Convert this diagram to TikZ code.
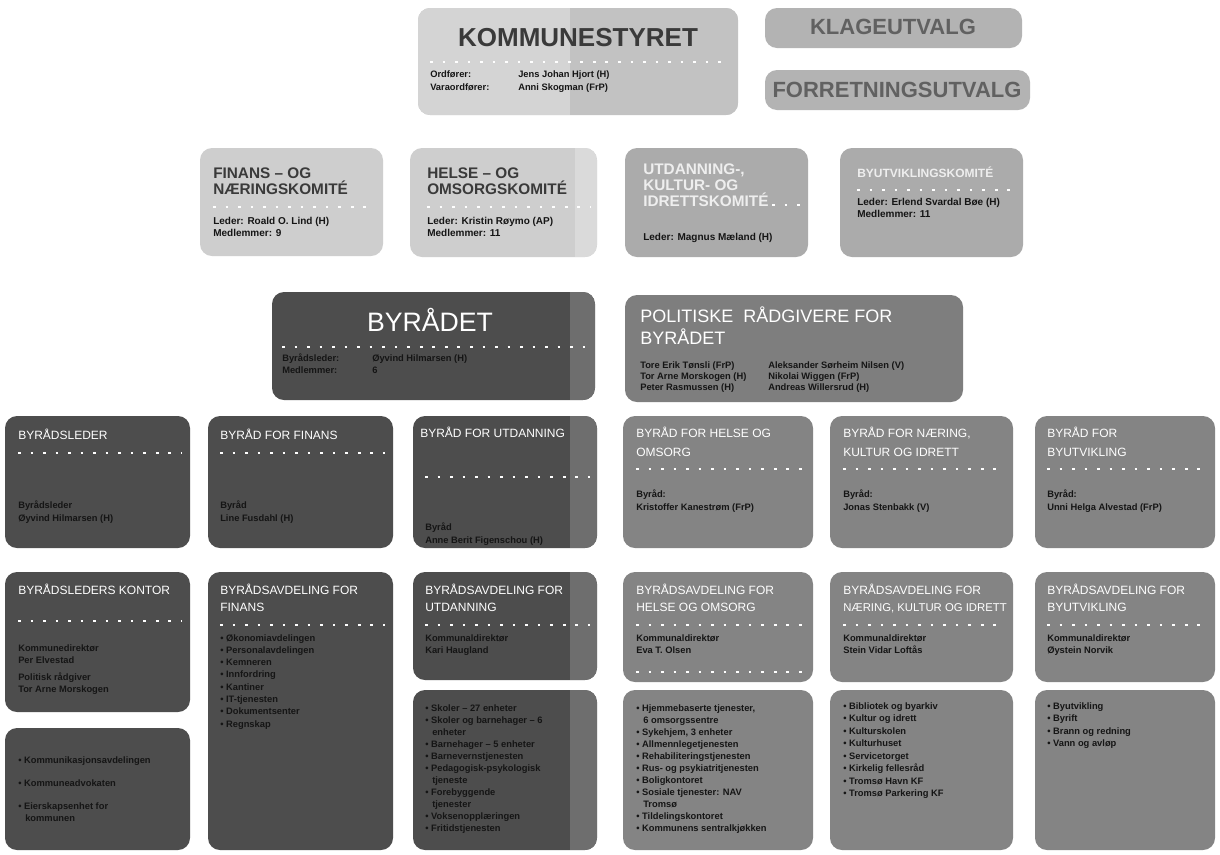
\documentclass[tikz,border=0pt]{standalone}
\usepackage{fontspec}
\setmainfont{Liberation Sans}
\usetikzlibrary{fit}
\definecolor{klight}{HTML}{D4D4D4}
\definecolor{kright}{HTML}{C2C2C2}
\definecolor{clight}{HTML}{CECECE}
\definecolor{cstrip}{HTML}{DADADA}
\definecolor{cmid}{HTML}{ABABAB}
\definecolor{klage}{HTML}{B3B3B3}
\definecolor{dark}{HTML}{4D4D4D}
\definecolor{darkstrip}{HTML}{6E6E6E}
\definecolor{mid}{HTML}{848484}
\definecolor{polit}{HTML}{7E7E7E}
\definecolor{txtdark}{HTML}{151515}
\definecolor{ttldark}{HTML}{3A3A3A}
\definecolor{ttllight}{HTML}{EEEEEE}
\newcounter{tn}
\newcommand{\bx}[6]{\node[fit={(#2,#3)(#4,#5)}, inner sep=0pt, outer sep=0pt, boxst, #6] (#1) {};}
\newcommand{\strp}[6]{\begin{scope}\clip[rounded corners=9pt] (#1,#2) rectangle (#3,#4);\fill[#6] (#5,#2) rectangle (#3,#4);\end{scope}}
\newcommand{\tx}[4]{\stepcounter{tn}\node[anchor=base west, inner sep=0pt, #4] (t\arabic{tn}) at (#1,#2) {#3};}
\newcommand{\tc}[4]{\stepcounter{tn}\node[anchor=base, inner sep=0pt, #4] (t\arabic{tn}) at (#1,#2) {#3};}
\newcommand{\dl}[3]{\draw[dotline] (#1,#3) -- (#2,#3);}
\begin{document}
\begin{tikzpicture}[x=0.75pt,y=-0.75pt,
  boxst/.style={rectangle, rounded corners=9pt, draw=none},
  dotline/.style={white, line width=2pt, dash pattern=on 2pt off 7.4pt},
  kt/.style={font=\fontsize{19.5}{20}\selectfont\bfseries, text=ttldark},
  ut/.style={font=\fontsize{16.5}{18}\selectfont\bfseries, text=ttldark!80},
  ct/.style={font=\fontsize{11.5}{12}\selectfont\bfseries, text=ttldark},
  clt/.style={font=\fontsize{11.5}{12}\selectfont\bfseries, text=ttllight},
  bt/.style={font=\fontsize{7}{8}\selectfont\bfseries, text=txtdark},
  cb/.style={font=\fontsize{7.5}{8.5}\selectfont\bfseries, text=txtdark},
  wt/.style={font=\fontsize{9}{10}\selectfont, text=white},
  bigw/.style={font=\fontsize{20}{22}\selectfont, text=white},
  polw/.style={font=\fontsize{13.5}{15}\selectfont, text=white}]
\useasboundingbox (0,0) rectangle (1220,854);
\fill[white] (0,0) rectangle (1220,854);

% ---------------- Kommunestyret ----------------
\bx{kommunestyret}{418}{8}{738}{115}{fill=kright}
\strp{418}{8}{738}{115}{418}{klight}
\begin{scope}\clip[rounded corners=9pt] (418,8) rectangle (738,115);\fill[kright] (570,8) rectangle (738,115);\end{scope}
\tc{578}{46}{KOMMUNESTYRET}{kt}
\dl{430}{728}{62}
\tx{430}{77}{Ordfører:}{bt}
\tx{518}{77}{Jens Johan Hjort (H)}{bt}
\tx{430}{90}{Varaordfører:}{bt}
\tx{518}{90}{Anni Skogman (FrP)}{bt}

\bx{klageutvalg}{765}{8}{1022}{48}{fill=klage}
\tc{893}{34}{KLAGEUTVALG}{ut}
\bx{forretning}{765}{70}{1030}{110}{fill=klage}
\tc{897}{97}{FORRETNINGSUTVALG}{ut}

% ---------------- Komiteer ----------------
\bx{finanskom}{200}{148}{383}{256}{fill=clight}
\tx{213}{178}{FINANS – OG}{ct}
\tx{213}{194}{NÆRINGSKOMITÉ}{ct}
\dl{213}{375}{207}
\tx{213}{224}{Leder: Roald O. Lind (H)}{cb}
\tx{213}{236}{Medlemmer: 9}{cb}

\bx{helsekom}{410}{148}{597}{257}{fill=clight}
\strp{410}{148}{597}{257}{575}{cstrip}
\tx{427}{178}{HELSE – OG}{ct}
\tx{427}{194}{OMSORGSKOMITÉ}{ct}
\dl{427}{590}{207}
\tx{427}{224}{Leder: Kristin Røymo (AP)}{cb}
\tx{427}{236}{Medlemmer: 11}{cb}

\bx{utdkom}{625}{148}{808}{257}{fill=cmid}
\dl{772}{800}{205}
\tx{643}{174}{UTDANNING-,}{clt}
\tx{643}{190}{KULTUR- OG}{clt}
\tx{643}{206}{IDRETTSKOMITÉ}{clt}
\tx{643}{240}{Leder: Magnus Mæland (H)}{cb}

\bx{byutvkom}{840}{148}{1023}{257}{fill=cmid}
\tx{857}{177}{BYUTVIKLINGSKOMITÉ}{clt, font=\fontsize{9}{10}\selectfont\bfseries}
\dl{857}{1015}{190}
\tx{857}{205}{Leder: Erlend Svardal Bøe (H)}{cb}
\tx{857}{217}{Medlemmer: 11}{cb}

% ---------------- Byrådet ----------------
\bx{byraadet}{272}{292}{595}{400}{fill=dark}
\strp{272}{292}{595}{400}{570}{darkstrip}
\tc{430}{331}{BYRÅDET}{bigw}
\dl{282}{588}{347}
\tx{282}{361}{Byrådsleder:}{bt}
\tx{372}{361}{Øyvind Hilmarsen (H)}{bt}
\tx{282}{373}{Medlemmer:}{bt}
\tx{372}{373}{6}{bt}

\bx{politiske}{625}{295}{963}{402}{fill=polit}
\tx{640}{322}{POLITISKE\ \ RÅDGIVERE FOR}{polw}
\tx{640}{344}{BYRÅDET}{polw}
\tx{640}{368}{Tore Erik Tønsli (FrP)}{bt}
\tx{640}{379}{Tor Arne Morskogen (H)}{bt}
\tx{640}{390}{Peter Rasmussen (H)}{bt}
\tx{768}{368}{Aleksander Sørheim Nilsen (V)}{bt}
\tx{768}{379}{Nikolai Wiggen (FrP)}{bt}
\tx{768}{390}{Andreas Willersrud (H)}{bt}

% ---------------- Byråder ----------------
\bx{byraadsleder}{5}{416}{190}{548}{fill=dark}
\tx{18}{439}{BYRÅDSLEDER}{wt}
\dl{18}{182}{453}
\tx{18}{508}{Byrådsleder}{bt}
\tx{18}{521}{Øyvind Hilmarsen (H)}{bt}

\bx{byraadfinans}{208}{416}{393}{548}{fill=dark}
\tx{220}{439}{BYRÅD FOR FINANS}{wt}
\dl{220}{385}{453}
\tx{220}{508}{Byråd}{bt}
\tx{220}{521}{Line Fusdahl (H)}{bt}

\bx{byraadutd}{413}{416}{597}{548}{fill=dark}
\strp{413}{416}{597}{548}{570}{darkstrip}
\tx{420}{437}{BYRÅD FOR UTDANNING}{wt}
\dl{425}{590}{477}
\tx{425}{530}{Byråd}{bt}
\tx{425}{543}{Anne Berit Figenschou (H)}{bt}

\bx{byraadhelse}{623}{416}{813}{548}{fill=mid}
\tx{636}{437}{BYRÅD FOR HELSE OG}{wt}
\tx{636}{456}{OMSORG}{wt}
\dl{636}{805}{469}
\tx{636}{497}{Byråd:}{bt}
\tx{636}{510}{Kristoffer Kanestrøm (FrP)}{bt}

\bx{byraadnaering}{830}{416}{1013}{548}{fill=mid}
\tx{843}{437}{BYRÅD FOR NÆRING,}{wt}
\tx{843}{456}{KULTUR OG IDRETT}{wt}
\dl{843}{1005}{469}
\tx{843}{497}{Byråd:}{bt}
\tx{843}{510}{Jonas Stenbakk (V)}{bt}

\bx{byraadbyutv}{1035}{416}{1215}{548}{fill=mid}
\tx{1047}{437}{BYRÅD FOR}{wt}
\tx{1047}{456}{BYUTVIKLING}{wt}
\dl{1047}{1208}{469}
\tx{1047}{497}{Byråd:}{bt}
\tx{1047}{510}{Unni Helga Alvestad (FrP)}{bt}

% ---------------- Byrådsavdelinger ----------------
\bx{lederkontor}{5}{572}{190}{712}{fill=dark}
\tx{18}{594}{BYRÅDSLEDERS KONTOR}{wt}
\dl{18}{182}{621}
\tx{18}{651}{Kommunedirektør}{bt}
\tx{18}{663}{Per Elvestad}{bt}
\tx{18}{680}{Politisk rådgiver}{bt}
\tx{18}{692}{Tor Arne Morskogen}{bt}

\bx{lederliste}{5}{728}{190}{850}{fill=dark}
\tx{18}{763}{• Kommunikasjonsavdelingen}{bt}
\tx{18}{786}{• Kommuneadvokaten}{bt}
\tx{18}{809}{• Eierskapsenhet for}{bt}
\tx{25}{821}{kommunen}{bt}

\bx{finansavd}{208}{572}{393}{850}{fill=dark}
\tx{220}{594}{BYRÅDSAVDELING FOR}{wt}
\tx{220}{611}{FINANS}{wt}
\dl{220}{385}{625}
\tx{220}{641}{• Økonomiavdelingen}{bt}
\tx{220}{653.3}{• Personalavdelingen}{bt}
\tx{220}{665.6}{• Kemneren}{bt}
\tx{220}{677.9}{• Innfordring}{bt}
\tx{220}{690.2}{• Kantiner}{bt}
\tx{220}{702.5}{• IT-tjenesten}{bt}
\tx{220}{714.8}{• Dokumentsenter}{bt}
\tx{220}{727.1}{• Regnskap}{bt}

\bx{utdavd}{413}{572}{597}{680}{fill=dark}
\strp{413}{572}{597}{680}{570}{darkstrip}
\tx{425}{594}{BYRÅDSAVDELING FOR}{wt}
\tx{425}{611}{UTDANNING}{wt}
\dl{425}{590}{625}
\tx{425}{641}{Kommunaldirektør}{bt}
\tx{425}{653}{Kari Haugland}{bt}

\bx{utdliste}{413}{690}{597}{850}{fill=dark}
\strp{413}{690}{597}{850}{570}{darkstrip}
\tx{425}{711}{• Skoler – 27 enheter}{bt}
\tx{425}{723}{• Skoler og barnehager – 6}{bt}
\tx{432}{735}{enheter}{bt}
\tx{425}{747}{• Barnehager – 5 enheter}{bt}
\tx{425}{759}{• Barnevernstjenesten}{bt}
\tx{425}{771}{• Pedagogisk-psykologisk}{bt}
\tx{432}{783}{tjeneste}{bt}
\tx{425}{795}{• Forebyggende}{bt}
\tx{432}{807}{tjenester}{bt}
\tx{425}{819}{• Voksenopplæringen}{bt}
\tx{425}{831}{• Fritidstjenesten}{bt}

\bx{helseavd}{623}{572}{813}{682}{fill=mid}
\tx{636}{594}{BYRÅDSAVDELING FOR}{wt}
\tx{636}{611}{HELSE OG OMSORG}{wt}
\dl{636}{805}{625}
\tx{636}{641}{Kommunaldirektør}{bt}
\tx{636}{653}{Eva T. Olsen}{bt}
\dl{636}{805}{672}

\bx{helseliste}{623}{690}{813}{850}{fill=mid}
\tx{636}{711}{• Hjemmebaserte tjenester,}{bt}
\tx{643}{723}{6 omsorgssentre}{bt}
\tx{636}{735}{• Sykehjem, 3 enheter}{bt}
\tx{636}{747}{• Allmennlegetjenesten}{bt}
\tx{636}{759}{• Rehabiliteringstjenesten}{bt}
\tx{636}{771}{• Rus- og psykiatritjenesten}{bt}
\tx{636}{783}{• Boligkontoret}{bt}
\tx{636}{795}{• Sosiale tjenester: NAV}{bt}
\tx{643}{807}{Tromsø}{bt}
\tx{636}{819}{• Tildelingskontoret}{bt}
\tx{636}{831}{• Kommunens sentralkjøkken}{bt}

\bx{naeringavd}{830}{572}{1013}{682}{fill=mid}
\tx{843}{594}{BYRÅDSAVDELING FOR}{wt}
\tx{843}{611}{NÆRING, KULTUR OG IDRETT}{wt, font=\fontsize{8.5}{10}\selectfont}
\dl{843}{1005}{625}
\tx{843}{641}{Kommunaldirektør}{bt}
\tx{843}{653}{Stein Vidar Loftås}{bt}

\bx{naeringliste}{830}{690}{1013}{850}{fill=mid}
\tx{843}{709}{• Bibliotek og byarkiv}{bt}
\tx{843}{721.5}{• Kultur og idrett}{bt}
\tx{843}{734}{• Kulturskolen}{bt}
\tx{843}{746.5}{• Kulturhuset}{bt}
\tx{843}{759}{• Servicetorget}{bt}
\tx{843}{771.5}{• Kirkelig fellesråd}{bt}
\tx{843}{784}{• Tromsø Havn KF}{bt}
\tx{843}{796.5}{• Tromsø Parkering KF}{bt}

\bx{byutvavd}{1035}{572}{1215}{682}{fill=mid}
\tx{1047}{594}{BYRÅDSAVDELING FOR}{wt}
\tx{1047}{611}{BYUTVIKLING}{wt}
\dl{1047}{1208}{625}
\tx{1047}{641}{Kommunaldirektør}{bt}
\tx{1047}{653}{Øystein Norvik}{bt}

\bx{byutvliste}{1035}{690}{1215}{850}{fill=mid}
\tx{1047}{709}{• Byutvikling}{bt}
\tx{1047}{721.5}{• Byrift}{bt}
\tx{1047}{734}{• Brann og redning}{bt}
\tx{1047}{746.5}{• Vann og avløp}{bt}
\end{tikzpicture}
\end{document}
